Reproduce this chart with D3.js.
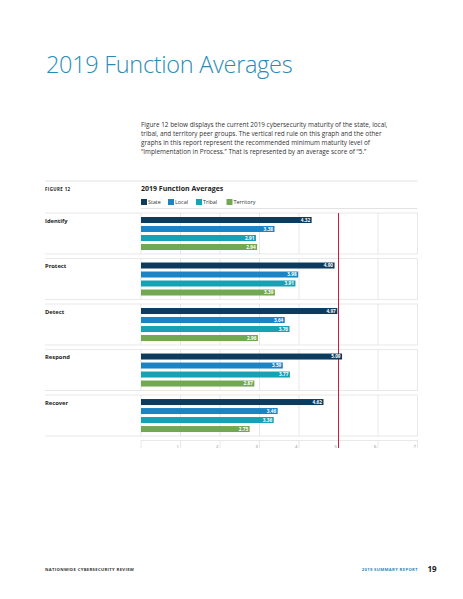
<!DOCTYPE html>
<html lang="en">

<head>
    <meta charset="UTF-8">
    <title>2019 Function Averages</title>
    <script src="https://cdnjs.cloudflare.com/ajax/libs/d3/7.9.0/d3.min.js"></script>
    <style>
        body { margin: 0; background: #fff; }
        svg { display: block; font-family: "Open Sans", "Noto Sans", sans-serif; }
    </style>
</head>

<body>
    <svg width="463" height="599"></svg>

    <script>
        // Data
        const functions = ["Identify", "Protect", "Detect", "Respond", "Recover"];
        const groups = ["State", "Local", "Tribal", "Territory"];
        const state = [4.32, 4.90, 4.97, 5.09, 4.62];
        const local = [3.38, 3.98, 3.64, 3.59, 3.46];
        const tribal = [2.91, 3.91, 3.76, 3.77, 3.36];
        const territory = [2.94, 3.39, 2.96, 2.87, 2.75];
        const tickValues = [1, 2, 3, 4, 5, 6, 7];
        const target = 5;

        const intro = [
            "Figure 12 below displays the current 2019 cybersecurity maturity of the state, local,",
            "tribal, and territory peer groups. The vertical red rule on this graph and the other",
            "graphs in this report represent the recommended minimum maturity level of",
            "\u201CImplementation in Process.\u201D That is represented by an average score of \u201C5.\u201D"
        ];

        const series = [state, local, tribal, territory];
        const colors = ["#0d3b5e", "#1a84c5", "#16a2b4", "#72a852"];

        let svg = d3.select("svg");

        // page heading
        svg.append("text")
            .attr("x", 46)
            .attr("y", 73)
            .attr("font-size", 23.5)
            .attr("font-weight", 300)
            .attr("letter-spacing", -0.3)
            .attr("fill", "#2a8bb8")
            .text("2019 Function Averages");

        svg.selectAll(".intro")
            .data(intro)
            .enter().append("text")
            .attr("x", 141)
            .attr("y", (d, i) => 127 + i * 9)
            .attr("font-size", 6.4)
            .attr("fill", "#333")
            .text(d => d);

        // scales
        let x = d3.scaleLinear().domain([0, 7]).range([141, 417.5]);
        let y = d3.scaleBand().domain(functions).range([213, 436]).paddingInner(0.1);
        let yInner = d3.scaleBand().domain(groups).range([4, 37]).paddingInner(1 / 3);

        const grey = "#e2e2e2";

        // figure header
        svg.append("line")
            .attr("x1", 45).attr("x2", 417.5)
            .attr("y1", 181).attr("y2", 181)
            .attr("stroke", grey).attr("stroke-width", 1);

        svg.append("text")
            .attr("x", 45).attr("y", 191)
            .attr("font-size", 4.4)
            .attr("font-weight", "bold")
            .attr("letter-spacing", 0.4)
            .attr("fill", "#222")
            .text("FIGURE 12");

        svg.append("text")
            .attr("x", 141).attr("y", 191)
            .attr("font-size", 7)
            .attr("font-weight", "bold")
            .attr("fill", "#222")
            .text("2019 Function Averages");

        // legend
        const legendX = [141, 168, 196, 226.5];
        let legend = svg.selectAll(".legend")
            .data(groups)
            .enter().append("g")
            .attr("transform", (d, i) => `translate(${legendX[i]},199)`);

        legend.append("rect")
            .attr("width", 6).attr("height", 6)
            .attr("fill", (d, i) => colors[i]);

        legend.append("text")
            .attr("x", 7).attr("y", 5.3)
            .attr("font-size", 5.4)
            .attr("fill", "#333")
            .text(d => d);

        svg.append("line")
            .attr("x1", 141).attr("x2", 417.5)
            .attr("y1", 208.5).attr("y2", 208.5)
            .attr("stroke", grey);

        // panels, one per function
        functions.forEach((f, fi) => {
            let top = y(f);
            let bottom = top + y.bandwidth();

            // gridlines
            tickValues.forEach(t => {
                svg.append("line")
                    .attr("x1", x(t)).attr("x2", x(t))
                    .attr("y1", top).attr("y2", bottom)
                    .attr("stroke", grey).attr("stroke-width", 0.8);
            });

            [top, bottom].forEach(yy => {
                svg.append("line")
                    .attr("x1", 45).attr("x2", 417.5)
                    .attr("y1", yy).attr("y2", yy)
                    .attr("stroke", grey).attr("stroke-width", 0.8);
            });

            svg.append("line")
                .attr("x1", x(0)).attr("x2", x(0))
                .attr("y1", top).attr("y2", bottom)
                .attr("stroke", grey).attr("stroke-width", 0.8);

            svg.append("text")
                .attr("x", 45).attr("y", top + 9.5)
                .attr("font-size", 5.8)
                .attr("font-weight", "bold")
                .attr("fill", "#222")
                .text(f);
        });

        // axis strip
        const axisTop = 440.5, axisBottom = 448;
        svg.append("line")
            .attr("x1", x(0)).attr("x2", x(7))
            .attr("y1", axisTop).attr("y2", axisTop)
            .attr("stroke", grey).attr("stroke-width", 0.8);

        [0].concat(tickValues).forEach(t => {
            svg.append("line")
                .attr("x1", x(t)).attr("x2", x(t))
                .attr("y1", axisTop).attr("y2", axisBottom)
                .attr("stroke", grey).attr("stroke-width", 0.8);
        });

        tickValues.forEach(t => {
            svg.append("text")
                .attr("x", x(t) - 1.5)
                .attr("y", 448)
                .attr("text-anchor", "end")
                .attr("font-size", 4.3)
                .attr("fill", "#888")
                .text(t);
        });

        // red rule at the recommended minimum
        svg.append("line")
            .attr("x1", x(target)).attr("x2", x(target))
            .attr("y1", y(functions[0])).attr("y2", axisBottom)
            .attr("stroke", "#c3203e").attr("stroke-width", 1);

        // bars with value labels
        functions.forEach((f, fi) => {
            groups.forEach((g, gi) => {
                let v = series[gi][fi];
                let by = y(f) + yInner(g);

                svg.append("rect")
                    .attr("x", x(0))
                    .attr("y", by)
                    .attr("width", x(v) - x(0))
                    .attr("height", yInner.bandwidth())
                    .attr("fill", colors[gi]);

                svg.append("text")
                    .attr("x", x(v) - 1.5)
                    .attr("y", by + yInner.bandwidth() / 2 + 1.7)
                    .attr("text-anchor", "end")
                    .attr("font-size", 4.7)
                    .attr("font-weight", "bold")
                    .attr("fill", "#fff")
                    .text(v.toFixed(2));
            });
        });

        // footer
        svg.append("text")
            .attr("x", 45).attr("y", 571)
            .attr("font-size", 4.2)
            .attr("font-weight", "bold")
            .attr("letter-spacing", 0.35)
            .attr("fill", "#333")
            .text("NATIONWIDE CYBERSECURITY REVIEW");

        svg.append("text")
            .attr("x", 418).attr("y", 571)
            .attr("text-anchor", "end")
            .attr("font-size", 4.2)
            .attr("font-weight", "bold")
            .attr("letter-spacing", 0.35)
            .attr("fill", "#2a8bb8")
            .text("2019 SUMMARY REPORT");

        svg.append("text")
            .attr("x", 427.5).attr("y", 572)
            .attr("font-size", 8)
            .attr("font-weight", "bold")
            .attr("fill", "#222")
            .text("19");
    </script>
</body>

</html>
